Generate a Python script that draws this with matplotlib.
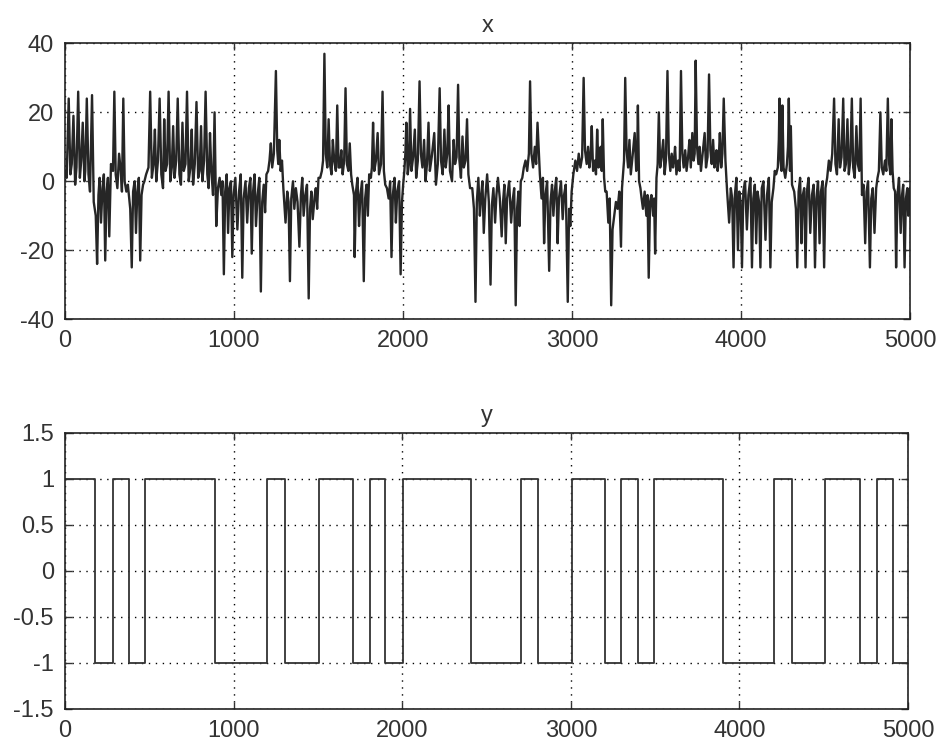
import numpy as np
import matplotlib
matplotlib.use('Agg')
import matplotlib.pyplot as plt
from matplotlib.ticker import FuncFormatter

plt.rcParams['font.family'] = ['Liberation Sans', 'DejaVu Sans']

# ---- data ----
# signal x : sample index / value (one row per sign regime)
x_t = [
    0, 10, 22, 32, 40, 50, 60, 68, 78, 88, 96, 105, 115, 120, 129, 139, 148, 160, 170,
    182, 190, 198, 205, 213, 222, 230, 238, 246, 254, 262, 272,
    284, 292, 300, 310, 320, 330, 337, 345, 353, 363, 372,
    386, 395, 403, 412, 420, 428, 437, 445, 453, 462, 470,
    480, 494, 504, 514, 524, 532, 540, 550, 560, 570, 580, 587, 595, 604, 613, 623, 632, 640, 648, 658,
    667, 677, 686, 695, 703, 713, 722, 732, 742, 750, 758, 768, 778, 788, 797, 805, 813, 823, 832, 842,
    850, 858, 866, 876, 885,
    895, 905, 915, 925, 932, 940, 948, 957, 965, 973, 982, 990, 998, 1008, 1020, 1030, 1040, 1049, 1057,
    1068, 1078, 1088, 1097, 1105, 1113, 1122, 1130, 1140, 1150, 1159, 1167, 1176, 1184, 1192,
    1202, 1210, 1218, 1226, 1236, 1248, 1256, 1262, 1268, 1276, 1284, 1292,
    1305, 1315, 1323, 1331, 1339, 1349, 1357, 1366, 1376, 1387, 1396, 1404, 1412, 1422, 1432, 1442, 1450,
    1458, 1466, 1476, 1484, 1492, 1500,
    1510, 1520, 1527, 1535, 1543, 1552, 1560, 1568, 1577, 1585, 1593, 1603, 1611, 1619, 1627, 1635, 1643,
    1652, 1660, 1668, 1677, 1685, 1693, 1700,
    1710, 1714, 1722, 1731, 1740, 1748, 1758, 1768, 1776, 1784, 1792, 1800,
    1810, 1816, 1823, 1830, 1840, 1850, 1858, 1870, 1879, 1887, 1895,
    1905, 1915, 1924, 1932, 1940, 1950, 1958, 1966, 1977, 1986, 1994, 2001,
    2008, 2014, 2020, 2028, 2035, 2042, 2050, 2060, 2070, 2078, 2088, 2098, 2106, 2115, 2125, 2133, 2142,
    2151, 2159, 2170, 2185, 2195, 2206, 2217, 2225, 2235, 2245, 2253, 2262, 2270, 2278, 2290, 2300, 2308,
    2317, 2326, 2334, 2343, 2352, 2360, 2370, 2379, 2387, 2397,
    2410, 2420, 2429, 2437, 2446, 2455, 2463, 2470, 2478, 2487, 2498, 2508, 2518, 2526, 2535, 2545, 2553,
    2562, 2573, 2584, 2592, 2600, 2608, 2616, 2628, 2640, 2648, 2658, 2667, 2675, 2683, 2690, 2697,
    2706, 2715, 2725, 2735, 2745, 2752, 2760, 2770, 2780, 2788, 2796,
    2810, 2820, 2828, 2835, 2843, 2853, 2865, 2873, 2882, 2890, 2898, 2907, 2915, 2923, 2935, 2945, 2953,
    2963, 2975, 2983, 2990, 2998,
    3008, 3020, 3030, 3040, 3050, 3060, 3069, 3077, 3087, 3095, 3103, 3110, 3117, 3125, 3135, 3142, 3149,
    3157, 3164, 3170, 3176, 3182, 3190, 3197,
    3205, 3215, 3223, 3232, 3240, 3250, 3260, 3270, 3280, 3290, 3296,
    3302, 3308, 3315, 3323, 3332, 3340, 3348, 3358, 3371, 3380, 3385, 3390, 3397,
    3405, 3412, 3420, 3430, 3440, 3447, 3454, 3462, 3470, 3480, 3486, 3492,
    3500, 3507, 3514, 3522, 3530, 3540, 3548, 3556, 3565, 3573, 3582, 3590, 3598, 3605, 3610, 3618, 3628,
    3637, 3645, 3653, 3661, 3670, 3678, 3687, 3695, 3703, 3712, 3720, 3726, 3732, 3740, 3748, 3755, 3763,
    3773, 3785, 3793, 3802, 3811, 3819, 3827, 3835, 3843, 3849, 3855, 3862, 3868, 3875, 3883, 3890, 3898,
    3908, 3918, 3930, 3940, 3948, 3956, 3964, 3973, 3982, 3990, 3998, 4006, 4014, 4024, 4035, 4044, 4056,
    4065, 4073, 4082, 4090, 4098, 4107, 4115, 4123, 4133, 4145, 4154, 4165, 4174, 4182, 4192, 4200,
    4208, 4218, 4224, 4228, 4234, 4240, 4245, 4252, 4262, 4272, 4278, 4283, 4290, 4295, 4302,
    4315, 4325, 4333, 4341, 4350, 4358, 4366, 4374, 4382, 4390, 4400, 4410, 4420, 4430, 4438, 4446, 4456,
    4465, 4473, 4483, 4492, 4500,
    4510, 4520, 4530, 4540, 4551, 4559, 4568, 4578, 4586, 4595, 4605, 4613, 4621, 4630, 4638, 4647, 4656,
    4664, 4673, 4683, 4691, 4700, 4708,
    4716, 4725, 4735, 4743, 4752, 4763, 4771, 4780, 4790, 4800, 4808,
    4816, 4825, 4833, 4842, 4852, 4860, 4869, 4877, 4884, 4890, 4897, 4904,
    4912, 4918, 4926, 4935, 4945, 4953, 4960, 4968, 4976, 4984, 4990, 4996, 5000,
]
x_v = [
    3, 1, 24, 2, 5, 19, -1, 4, 26, 1, 6, 17, 0, 3, 24, 2, -3, 25, -6,
    -10, -24, -4, 1, -12, -2, 2, -23, -3, 1, -16, 5,
    3, 26, 2, -2, 8, 3, -3, 24, 0, -3, -1,
    -8, -25, -3, 0, -15, -3, 1, -23, -4, -1, 0,
    2, 4, 26, 1, 5, 15, 0, 6, 24, 2, -2, 18, 3, 5, 26, 0, 4, 16, 1, 6,
    24, 2, -1, 17, 3, 5, 26, 0, 4, 15, -1, 5, 23, 1, 3, 16, 0, 6, 26, 2,
    -2, 14, 3, -4, 20,
    -13, -2, 1, -4, 0, -27, -3, 2, -15, -2, 0, -22, -4, 1, -14, -3, 2, -28, -5,
    0, -12, -2, 1, -21, -3, 2, -13, -4, 1, -32, -6, -1, -9, 2,
    3, 6, 11, 4, 8, 32, 9, 5, 12, 3, 6, -2,
    -12, -3, -6, -29, -5, 0, -8, -2, -6, -19, -4, 1, -10, -4, -1, -34, -8,
    -3, -11, -5, -2, -8, 1,
    1, 3, 6, 37, 8, 4, 18, 5, 2, 12, 6, 3, 22, 4, 4, 9, 2,
    6, 27, 5, 3, 11, 2, -1,
    -4, -22, -3, 1, -13, -4, 0, -29, -5, -1, -10, 2,
    1, 4, 17, 3, 6, 14, 2, 5, 26, 3, -1,
    -2, -5, 0, -22, -4, 1, -12, -3, 0, -27, -6, -1,
    3, 8, 17, 2, 5, 21, 3, 7, 15, 1, 6, 29, 8, 4, 12, 0, 5,
    17, 3, 7, 14, -1, 5, 27, 6, 2, 15, 4, 8, 22, 3, 0, 12, 5,
    7, 28, 6, 1, 13, 4, 6, 18, 2, -2,
    -2, -8, -35, -6, 1, -10, -4, 0, -15, -5, 2, -6, -30, -7, -2, -12, -4,
    1, -5, -16, -6, -1, -18, -5, 0, -12, -6, -2, -36, -8, -3, -13, 0,
    1, 4, 6, 3, 8, 29, 8, 4, 10, 5, 17,
    2, -5, 1, -18, -4, 0, -26, -6, -1, -10, -3, 1, -18, -5, 0, -11, -4,
    -1, -35, -8, -13, -3,
    2, 6, 3, 8, 4, 7, 30, 9, 5, 10, 4, 7, 16, 3, 6, 2, 15,
    4, 8, 10, 3, 18, 1, -3,
    -3, -12, -5, -36, -14, -10, -6, -8, -3, -19, -2,
    2, 6, 30, 9, 4, 12, 2, 7, 14, 3, 5, 22, 0,
    -2, -5, -8, -3, -10, -4, -28, -6, -4, -10, -5, -21,
    1, 5, 20, 4, 7, 12, 2, 6, 32, 8, 3, 8, 4, 7, 10, 2, 6,
    3, 32, 8, 4, 9, 3, 7, 12, 4, 14, 6, 8, 35, 10, 5, 10, 3,
    8, 14, 4, 7, 31, 9, 5, 12, 4, 7, 9, 3, 6, 14, 4, 8, 24,
    6, -3, -12, -2, -5, -25, -4, 1, -20, -3, -6, -25, -3, 0, -14, -4, 1,
    -25, -5, -1, -18, -3, -6, -25, -2, 0, -17, -4, 1, -25, -6, -2, 3,
    2, 4, 12, 24, 6, 3, 22, 4, 1, 5, 10, 24, 3, 16, -1,
    -3, -8, -25, -3, 1, -18, -4, -2, -25, -3, 1, -15, -4, -1, -25, -5, 0,
    -18, -3, 0, -25, -2,
    1, 6, 3, 8, 24, 5, 2, 18, 4, 7, 24, 3, 5, 18, 2, 6, 24,
    4, 1, 16, 5, 3, 24,
    -4, -1, -18, -3, 0, -25, -5, -2, -15, -2, 1,
    3, 20, 4, 2, 6, 3, 24, 5, 2, 18, 3, -2,
    -3, -25, -4, 1, -15, -4, -1, -25, -5, -2, -10, -3, -2,
]

# signal y : switching instants and levels
y_switch = [0, 175, 283, 379, 475, 892, 1198, 1303, 1507, 1707, 1806, 1900, 2006, 2405,
            2702, 2804, 3004, 3202, 3298, 3401, 3496, 3903, 4204, 4310, 4506, 4712,
            4813, 4909, 5000]
y_level = [1, -1, 1, -1, 1, -1, 1, -1, 1, -1, 1, -1, 1, -1,
           1, -1, 1, -1, 1, -1, 1, -1, 1, -1, 1, -1, 1, -1]

x_ticks = [0, 1000, 2000, 3000, 4000, 5000]
x_yticks = [-40, -20, 0, 20, 40]
y_yticks = [-1.5, -1, -0.5, 0, 0.5, 1, 1.5]

fig = plt.figure(figsize=(9.42, 7.49), dpi=100)
ax1 = fig.add_axes([0.069, 0.574, 0.897, 0.368])
ax2 = fig.add_axes([0.069, 0.054, 0.895, 0.368])

fmt = FuncFormatter(lambda v, p: ('%g' % v))

def style(ax):
    ax.set_xlim(0, 5000)
    ax.set_xticks(x_ticks)
    ax.grid(True, color='black', linestyle=(0, (1, 4)), linewidth=1.0)
    ax.tick_params(direction='in', length=5, width=1, labelsize=17,
                   colors='#333333', pad=8, top=True, right=True)
    for s in ax.spines.values():
        s.set_linewidth(1.2)
        s.set_color('#222222')
    ax.yaxis.set_major_formatter(fmt)

ax1.plot(x_t, x_v, color='#262626', linewidth=1.7)
ax1.set_ylim(-40, 40)
ax1.set_yticks(x_yticks)
style(ax1)
ax1.set_title('x', fontsize=17, pad=8, color='#333333')

ax2.step(y_switch, y_level + [y_level[-1]], where='post', color='#333333', linewidth=1.3)
ax2.set_ylim(-1.5, 1.5)
ax2.set_yticks(y_yticks)
style(ax2)
ax2.set_title('y', fontsize=17, pad=8, color='#333333')

fig.savefig('out.png', dpi=100)
